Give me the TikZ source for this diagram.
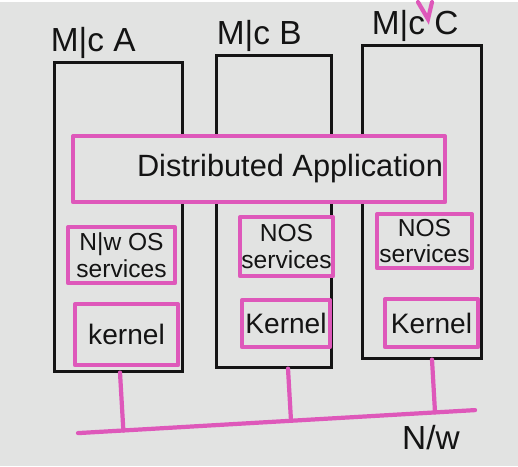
\documentclass[tikz,border=0pt]{standalone}
\usepackage{fontspec}
\setmainfont{Liberation Sans}
\usepackage{tikz}
\usetikzlibrary{calc}
\usetikzlibrary{positioning}
\definecolor{board}{RGB}{226, 227, 226}
\definecolor{marker}{RGB}{222, 88, 186}
\definecolor{ink}{RGB}{20, 20, 20}

\begin{document}
\begin{tikzpicture}[x=0.02cm, y=-0.02cm,
    mc/.style={draw=ink, line width=1.7pt, inner sep=0pt},
    layer/.style={draw=marker, fill=board, line width=2.4pt, inner sep=0pt,
                  align=center, text=ink, line join=round},
    wire/.style={draw=marker, line width=2.4pt, line cap=round},
    mclabel/.style={inner sep=0pt, text=ink, font=\fontsize{19}{22}\selectfont},
    svctext/.style={font=\fontsize{14}{15}\selectfont},
    kertext/.style={font=\fontsize{16}{18}\selectfont}]

        \fill[board] (0,0) rectangle (518,464);

        % machines
        \node[mc, minimum width=2.58cm, minimum height=6.18cm] (A) at (118.5, 214.5) {};
        \node[mc, minimum width=2.32cm, minimum height=6.24cm] (B) at (274, 209) {};
        \node[mc, minimum width=2.40cm, minimum height=6.26cm] (C) at (422, 199.5) {};

        \node[mclabel, above right=1pt and -0.04cm of A.north west] (labA) {M|c A};
        \node[mclabel, above right=1pt and 0.04cm of B.north west] (labB) {M|c B};
        \node[mclabel, above right=1pt and 0.22cm of C.north west] (labC) {M|c C};

        % distributed application layer
        \node[layer, minimum width=7.44cm, minimum height=1.32cm] (DA) at (259, 167) {};
        \node[text=ink, inner sep=0pt, font=\fontsize{17.5}{20}\selectfont]
            (datext) at (290, 166) {Distributed Application};

        % services and kernels
        \node[layer, svctext, minimum width=2.14cm, minimum height=1.12cm] (svcA) at (121.5, 253) {N|w OS\\services};
        \node[layer, svctext, minimum width=1.86cm, minimum height=1.18cm] (svcB) at (286.5, 244.5) {NOS\\services};
        \node[layer, svctext, minimum width=1.90cm, minimum height=1.08cm] (svcC) at (424.5, 239) {NOS\\services};

        \node[layer, kertext, minimum width=2.06cm, minimum height=1.22cm] (kerA) at (126.5, 332.5) {kernel};
        \node[layer, kertext, minimum width=1.76cm, minimum height=0.94cm] (kerB) at (286, 321.5) {Kernel};
        \node[layer, kertext, minimum width=1.86cm, minimum height=0.96cm] (kerC) at (431.5, 321) {Kernel};

        % network
        \coordinate (netL) at (78, 431);
        \coordinate (netR) at (475, 408);
        \draw[wire] (netL) -- (netR);

        \coordinate (dropA) at ($(A.south)+(1.5,0)$);
        \coordinate (dropB) at ($(B.south)+(14,0)$);
        \coordinate (dropC) at ($(C.south)+(10,0)$);
        \coordinate (tapA) at ($(netL)!(dropA)!(netR)$);
        \coordinate (tapB) at ($(netL)!(dropB)!(netR)$);
        \coordinate (tapC) at ($(netL)!(dropC)!(netR)$);
        \draw[wire] (dropA) -- (tapA);
        \draw[wire] (dropB) -- (tapB);
        \draw[wire] (dropC) -- (tapC);

        \node[mclabel, below left=0.3cm and 0.3cm of netR] (nw) {N/w};

        % stray marker stroke
        \draw[wire] (418, 0) -- (428, 17) -- (432, 0);

    \end{tikzpicture}
\end{document}
